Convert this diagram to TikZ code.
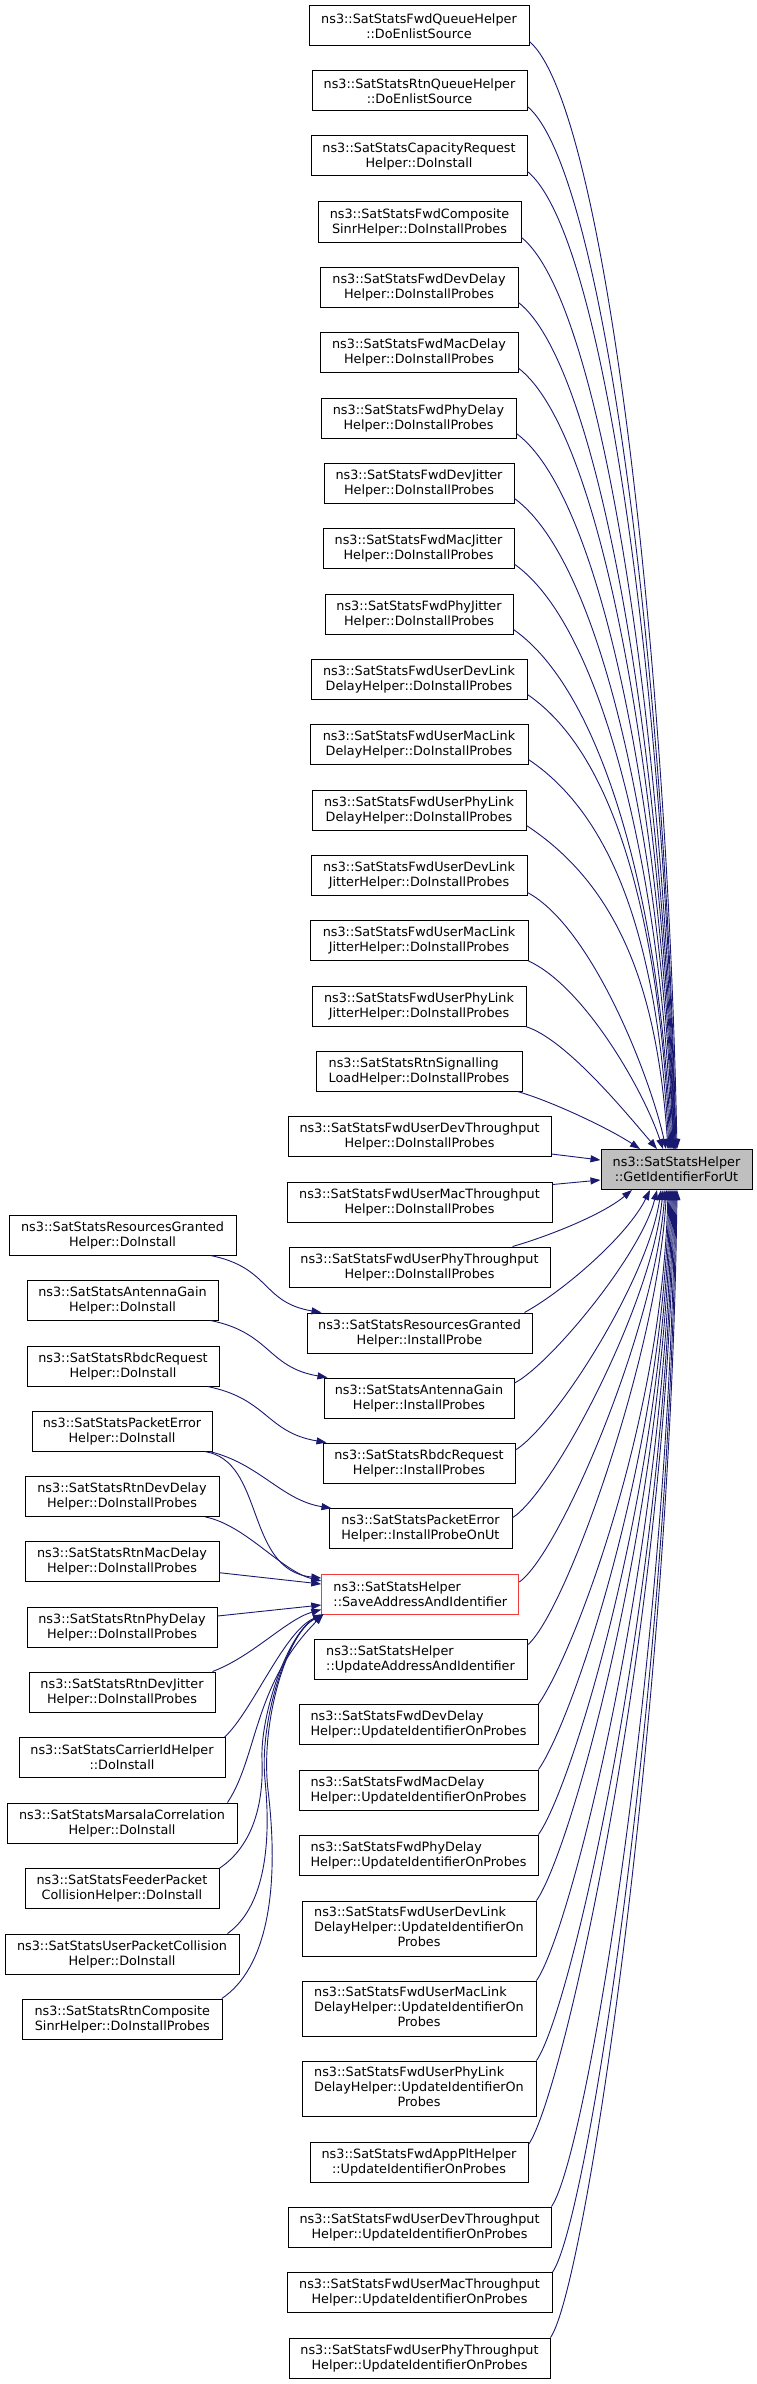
\documentclass[tikz,border=0pt]{standalone}
\usepackage{fontspec}
\setmainfont{DejaVu Sans}
\usetikzlibrary{arrows.meta,calc}
\definecolor{edgeblue}{HTML}{191970}
\definecolor{rootgray}{HTML}{BFBFBF}
\definecolor{truncred}{HTML}{F23C3C}
\begin{document}
\begin{tikzpicture}[x=1pt,y=-1pt,
  nodebox/.style={draw=black, line width=1pt, fill=white, inner sep=0pt, minimum height=40pt, text=black, font=\fontsize{12.8pt}{15pt}\selectfont},
  cbox/.style={nodebox, align=center},
  lbox/.style={nodebox, align=left},
  tbox/.style={nodebox, minimum height=55pt},
  rootbox/.style={cbox, fill=rootgray},
  truncbox/.style={lbox, draw=truncred},
  conn/.style={draw=edgeblue, line width=0.9pt, -{Triangle[length=10pt,width=7pt]}},
]
\useasboundingbox (0,0) rectangle (757,2384);
% root
\node[rootbox, minimum width=151pt] (g) at (676.5,1169.5) {ns3::SatStatsHelper\\::GetIdentifierForUt};
% middle column
\node[cbox, minimum width=220pt] (n1) at (419,26) {ns3::SatStatsFwdQueueHelper\\::DoEnlistSource};
\node[cbox, minimum width=215pt] (n2) at (419.5,91) {ns3::SatStatsRtnQueueHelper\\::DoEnlistSource};
\node[cbox, minimum width=216pt] (n3) at (419,156) {ns3::SatStatsCapacityRequest\\Helper::DoInstall};
\node[cbox, minimum width=203pt] (n4) at (419.5,222) {ns3::SatStatsFwdComposite\\SinrHelper::DoInstallProbes};
\node[cbox, minimum width=198pt] (n5) at (419,287) {ns3::SatStatsFwdDevDelay\\Helper::DoInstallProbes};
\node[cbox, minimum width=198pt] (n6) at (419,352.7) {ns3::SatStatsFwdMacDelay\\Helper::DoInstallProbes};
\node[cbox, minimum width=195pt] (n7) at (418.5,418) {ns3::SatStatsFwdPhyDelay\\Helper::DoInstallProbes};
\node[cbox, minimum width=190pt] (n8) at (419,483) {ns3::SatStatsFwdDevJitter\\Helper::DoInstallProbes};
\node[cbox, minimum width=191pt] (n9) at (418.5,548.7) {ns3::SatStatsFwdMacJitter\\Helper::DoInstallProbes};
\node[cbox, minimum width=188pt] (n10) at (419,614) {ns3::SatStatsFwdPhyJitter\\Helper::DoInstallProbes};
\node[cbox, minimum width=216pt] (n11) at (419,679) {ns3::SatStatsFwdUserDevLink\\DelayHelper::DoInstallProbes};
\node[cbox, minimum width=218pt] (n12) at (419,744) {ns3::SatStatsFwdUserMacLink\\DelayHelper::DoInstallProbes};
\node[cbox, minimum width=214pt] (n13) at (419,810) {ns3::SatStatsFwdUserPhyLink\\DelayHelper::DoInstallProbes};
\node[cbox, minimum width=216pt] (n14) at (419,875) {ns3::SatStatsFwdUserDevLink\\JitterHelper::DoInstallProbes};
\node[cbox, minimum width=218pt] (n15) at (419,940.5) {ns3::SatStatsFwdUserMacLink\\JitterHelper::DoInstallProbes};
\node[cbox, minimum width=214pt] (n16) at (419,1006) {ns3::SatStatsFwdUserPhyLink\\JitterHelper::DoInstallProbes};
\node[lbox, minimum width=206pt] (n17) at (419,1071) {ns3::SatStatsRtnSignalling\\LoadHelper::DoInstallProbes};
\node[cbox, minimum width=263pt] (n18) at (419.5,1136.5) {ns3::SatStatsFwdUserDevThroughput\\Helper::DoInstallProbes};
\node[cbox, minimum width=265pt] (n19) at (419.5,1202) {ns3::SatStatsFwdUserMacThroughput\\Helper::DoInstallProbes};
\node[cbox, minimum width=261pt] (n20) at (419.5,1267) {ns3::SatStatsFwdUserPhyThroughput\\Helper::DoInstallProbes};
\node[cbox, minimum width=225pt] (n21) at (419.5,1333) {ns3::SatStatsResourcesGranted\\Helper::InstallProbe};
\node[cbox, minimum width=190pt] (n22) at (419,1398) {ns3::SatStatsAntennaGain\\Helper::InstallProbes};
\node[cbox, minimum width=192pt] (n23) at (419,1463) {ns3::SatStatsRbdcRequest\\Helper::InstallProbes};
\node[lbox, minimum width=183pt] (n24) at (420.5,1528.7) {ns3::SatStatsPacketError\\Helper::InstallProbeOnUt};
\node[truncbox, minimum width=197pt] (n25) at (420.3,1594) {ns3::SatStatsHelper\\::SaveAddressAndIdentifier};
\node[lbox, minimum width=213pt] (n26) at (420.5,1659) {ns3::SatStatsHelper\\::UpdateAddressAndIdentifier};
\node[lbox, minimum width=239pt] (n27) at (418.5,1724.5) {ns3::SatStatsFwdDevDelay\\Helper::UpdateIdentifierOnProbes};
\node[lbox, minimum width=239pt] (n28) at (418.5,1790) {ns3::SatStatsFwdMacDelay\\Helper::UpdateIdentifierOnProbes};
\node[lbox, minimum width=239pt] (n29) at (418.5,1855) {ns3::SatStatsFwdPhyDelay\\Helper::UpdateIdentifierOnProbes};
\node[tbox, minimum width=234pt] (n30) at (419,1928.5) {\begin{tabular}{@{}l@{}}ns3::SatStatsFwdUserDevLink\\DelayHelper::UpdateIdentifierOn\\\multicolumn{1}{@{}c@{}}{Probes}\end{tabular}};
\node[tbox, minimum width=234pt] (n31) at (419,2008.5) {\begin{tabular}{@{}l@{}}ns3::SatStatsFwdUserMacLink\\DelayHelper::UpdateIdentifierOn\\\multicolumn{1}{@{}c@{}}{Probes}\end{tabular}};
\node[tbox, minimum width=234pt] (n32) at (419,2088.5) {\begin{tabular}{@{}l@{}}ns3::SatStatsFwdUserPhyLink\\DelayHelper::UpdateIdentifierOn\\\multicolumn{1}{@{}c@{}}{Probes}\end{tabular}};
\node[cbox, minimum width=218pt] (n33) at (419,2162) {ns3::SatStatsFwdAppPltHelper\\::UpdateIdentifierOnProbes};
\node[cbox, minimum width=263pt] (n34) at (419.5,2227) {ns3::SatStatsFwdUserDevThroughput\\Helper::UpdateIdentifierOnProbes};
\node[cbox, minimum width=265pt] (n35) at (419.5,2292.7) {ns3::SatStatsFwdUserMacThroughput\\Helper::UpdateIdentifierOnProbes};
\node[cbox, minimum width=261pt] (n36) at (419.5,2358) {ns3::SatStatsFwdUserPhyThroughput\\Helper::UpdateIdentifierOnProbes};
% left column
\node[cbox, minimum width=227pt] (l1) at (122.5,1235) {ns3::SatStatsResourcesGranted\\Helper::DoInstall};
\node[cbox, minimum width=191pt] (l2) at (122.5,1300) {ns3::SatStatsAntennaGain\\Helper::DoInstall};
\node[cbox, minimum width=192pt] (l3) at (123,1366) {ns3::SatStatsRbdcRequest\\Helper::DoInstall};
\node[cbox, minimum width=180pt] (l4) at (122,1431) {ns3::SatStatsPacketError\\Helper::DoInstall};
\node[cbox, minimum width=194pt] (l5) at (122,1496.5) {ns3::SatStatsRtnDevDelay\\Helper::DoInstallProbes};
\node[cbox, minimum width=194pt] (l6) at (122,1561.7) {ns3::SatStatsRtnMacDelay\\Helper::DoInstallProbes};
\node[cbox, minimum width=190pt] (l7) at (122,1627) {ns3::SatStatsRtnPhyDelay\\Helper::DoInstallProbes};
\node[cbox, minimum width=186pt] (l8) at (122,1692) {ns3::SatStatsRtnDevJitter\\Helper::DoInstallProbes};
\node[cbox, minimum width=206pt] (l9) at (122,1757.7) {ns3::SatStatsCarrierIdHelper\\::DoInstall};
\node[cbox, minimum width=230pt] (l10) at (122,1823) {ns3::SatStatsMarsalaCorrelation\\Helper::DoInstall};
\node[cbox, minimum width=194pt] (l11) at (122,1888.7) {ns3::SatStatsFeederPacket\\CollisionHelper::DoInstall};
\node[cbox, minimum width=234pt] (l12) at (122,1954) {ns3::SatStatsUserPacketCollision\\Helper::DoInstall};
\node[cbox, minimum width=200pt] (l13) at (122.3,2019) {ns3::SatStatsRtnComposite\\SinrHelper::DoInstallProbes};
% upper fan into root
\draw[conn] ($(n1.south east)+(0,-5)$) .. controls +(75,65) and +(-10,-499) .. ($(g.north)+(0.5,0)$);
\draw[conn] ($(n2.south east)+(0,-5)$) .. controls +(77,65) and +(-10,-470) .. ($(g.north)+(-0.5,0)$);
\draw[conn] ($(n3.south east)+(0,-5)$) .. controls +(79,65) and +(-10,-441) .. ($(g.north)+(-1,0)$);
\draw[conn] ($(n4.south east)+(0,-5)$) .. controls +(81,65) and +(-10,-411) .. ($(g.north)+(-1.5,0)$);
\draw[conn] ($(n5.south east)+(0,-5)$) .. controls +(83,65) and +(-10,-382) .. ($(g.north)+(-2,0)$);
\draw[conn] ($(n6.south east)+(0,-5)$) .. controls +(85,65) and +(-10,-352) .. ($(g.north)+(-2.5,0)$);
\draw[conn] ($(n7.south east)+(0,-5)$) .. controls +(87,65) and +(-10,-323) .. ($(g.north)+(-3,0)$);
\draw[conn] ($(n8.south east)+(0,-5)$) .. controls +(89,65) and +(-10,-293) .. ($(g.north)+(-3.5,0)$);
\draw[conn] ($(n9.south east)+(0,-5)$) .. controls +(91,65) and +(-10,-264) .. ($(g.north)+(-4.5,0)$);
\draw[conn] ($(n10.south east)+(0,-5)$) .. controls +(93,65) and +(-10,-234) .. ($(g.north)+(-5.5,0)$);
\draw[conn] ($(n11.south east)+(0,-5)$) .. controls +(95,65) and +(-10,-205) .. ($(g.north)+(-6.5,0)$);
\draw[conn] ($(n12.south east)+(0,-5)$) .. controls +(97,65) and +(-10,-176) .. ($(g.north)+(-7.5,0)$);
\draw[conn] ($(n13.south east)+(0,-5)$) .. controls +(99,65) and +(-10,-146) .. ($(g.north)+(-8.5,0)$);
\draw[conn] ($(n14.south east)+(0,-3)$) .. controls +(65,35) and +(-15,-70) .. ($(g.north)+(-10.5,0)$);
\draw[conn] (n15.south east) .. controls +(55,25) and +(-20,-60) .. ($(g.north)+(-13.5,0)$);
\draw[conn] ($(n16.south east)+(-1,0)$) .. controls +(40,12) and +(-30,-35) .. ($(g.north)+(-19.5,0)$);
\draw[conn] ($(n17.south east)+(-5,0)$) .. controls +(35,10) and +(-30,-20) .. ($(g.north)+(-36.5,0)$);
% side arrows
\draw[conn] ($(n18.south east)+(0,-3)$) -- ($(g.west)+(0,-9.5)$);
\draw[conn] ($(n19.north east)+(0,3)$) -- ($(g.west)+(0,10.5)$);
% lower fan into root
\draw[conn] ($(n20.north east)+(-38,0)$) .. controls +(35,-10) and +(-30,25) .. ($(g.south)+(-44.5,0)$);
\draw[conn] ($(n21.north east)+(-8,0)$) .. controls +(40,-22) and +(-22,45) .. ($(g.south)+(-26.5,0)$);
\draw[conn] ($(n22.east)+(0,-15)$) .. controls +(35,-18) and +(-16,65) .. ($(g.south)+(-19.5,0)$);
\draw[conn] ($(n23.east)+(0,-13)$) .. controls +(40,-25) and +(-13,90) .. ($(g.south)+(-15.5,0)$);
\draw[conn] ($(n24.east)+(0,-11)$) .. controls +(40,-25) and +(-11,115) .. ($(g.south)+(-13.5,0)$);
\draw[conn] ($(n25.east)+(0,-12)$) .. controls +(40,-28) and +(-10,140) .. ($(g.south)+(-11.5,0)$);
\draw[conn] ($(n26.east)+(0,-14)$) .. controls +(38,-32) and +(-9,165) .. ($(g.south)+(-10,0)$);
\draw[conn] (n27.north east) .. controls +(35,-50) and +(-6,232) .. ($(g.south)+(-8.5,0)$);
\draw[conn] (n28.north east) .. controls +(35,-50) and +(-6,261) .. ($(g.south)+(-7.5,0)$);
\draw[conn] (n29.north east) .. controls +(35,-50) and +(-6,291) .. ($(g.south)+(-6.5,0)$);
\draw[conn] (n30.north east) .. controls +(35,-50) and +(-6,320) .. ($(g.south)+(-5.5,0)$);
\draw[conn] (n31.north east) .. controls +(35,-50) and +(-6,356) .. ($(g.south)+(-4.5,0)$);
\draw[conn] (n32.north east) .. controls +(35,-50) and +(-6,392) .. ($(g.south)+(-3.5,0)$);
\draw[conn] ($(n33.north east)+(0,3)$) .. controls +(35,-50) and +(-6,429) .. ($(g.south)+(-2.5,0)$);
\draw[conn] (n34.north east) .. controls +(35,-50) and +(-6,458) .. ($(g.south)+(-1.5,0)$);
\draw[conn] (n35.north east) .. controls +(35,-50) and +(-6,488) .. ($(g.south)+(-0.5,0)$);
\draw[conn] (n36.north east) .. controls +(35,-50) and +(-6,517) .. ($(g.south)+(0.5,0)$);
% left column edges
\draw[conn] ($(l1.south east)+(-26,0)$) .. controls +(60,12) and +(-60,-10) .. ($(n21.north west)+(15,0)$);
\draw[conn] ($(l2.south east)+(-8,0)$) .. controls +(60,12) and +(-60,-10) .. ($(n22.north west)+(4,0)$);
\draw[conn] ($(l3.south east)+(-12,0)$) .. controls +(60,12) and +(-60,-10) .. ($(n23.north west)+(4,0)$);
\draw[conn] ($(l4.south east)+(-3,0)$) .. controls +(50,12) and +(-50,-8) .. ($(n24.north west)+(3,0)$);
\draw[conn] ($(l4.south east)+(-8,0)$) .. controls +(61,9) and +(-77,-8) .. ($(n25.west)+(0,-16)$);
\draw[conn] ($(l5.south east)+(-14,0)$) .. controls +(40,8) and +(-40,-10) .. ($(n25.west)+(0,-13)$);
\draw[conn] ($(l6.east)+(0,11)$) -- ($(n25.west)+(0,-10)$);
\draw[conn] ($(l7.east)+(0,-11)$) -- ($(n25.west)+(0,11)$);
\draw[conn] ($(l8.north east)+(-3,0)$) .. controls +(40,-15) and +(-35,10) .. ($(n25.south west)+(0,-5)$);
\draw[conn] ($(l9.north east)+(-1,0)$) .. controls +(28,-26) and +(-39,16) .. ($(n25.south west)+(2,0)$);
\draw[conn] ($(l10.north east)+(-10,0)$) .. controls +(30,-45) and +(-70,70) .. ($(n25.south west)+(2,0)$);
\draw[conn] (l11.north east) .. controls +(30,-20) and (264,1810) .. (262,1760) .. controls (260,1715) and (288,1632) .. ($(n25.south west)+(2,0)$);
\draw[conn] ($(l12.north east)+(-12,0)$) .. controls +(35,-25) and (272,1850) .. (265,1780) .. controls (259,1720) and (288,1632) .. ($(n25.south west)+(2,0)$);
\draw[conn] ($(l13.north east)+(-1,0)$) .. controls +(45,-30) and (280,1890) .. (268,1790) .. controls (260,1720) and (288,1632) .. ($(n25.south west)+(2,0)$);
\end{tikzpicture}
\end{document}
